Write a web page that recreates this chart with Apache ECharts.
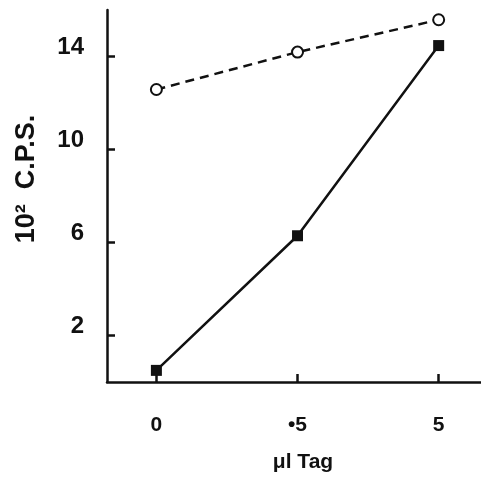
<!DOCTYPE html>
<html><head><meta charset="utf-8">
<script src="https://cdn.jsdelivr.net/npm/echarts@6/dist/echarts.min.js"></script>
<style>html,body{margin:0;padding:0;background:#fff}#c{width:481px;height:481px}</style>
</head><body><div id="c"></div>
<script>
const categories = ['0', '•5', '5'];
const xPositions = [0, 1, 2];
const openCircle = [12.58, 14.19, 15.58];
const filledSquare = [0.5, 6.29, 14.47];
const yTicks = [2, 6, 10, 14];

const chart = echarts.init(document.getElementById('c'));
const font = 'Liberation Sans, Arial, Helvetica, sans-serif';
chart.setOption({
  animation: false,
  backgroundColor: '#fff',
  grid: {left: 107, right: 0, top: 10, bottom: 99},
  xAxis: {
    type: 'value', min: -0.35, max: 2.3,
    name: 'μl Tag', nameLocation: 'middle', nameGap: 70,
    nameTextStyle: {fontFamily: font, fontWeight: 'bold', fontSize: 21, color: '#111', padding: [0,0,0,18]},
    axisLine: {show: true, lineStyle: {color: '#111', width: 2.5}},
    axisTick: {show: true, inside: true, length: 8, lineStyle: {color: '#111', width: 2.5}, customValues: xPositions},
    axisLabel: {fontFamily: font, fontWeight: 'bold', fontSize: 21, color: '#111', margin: 33,
      customValues: xPositions, formatter: v => categories[Math.round(v)]},
    splitLine: {show: false}
  },
  yAxis: {
    type: 'value', min: 0, max: 16,
    name: '10²  C.P.S.', nameLocation: 'middle', nameGap: 67, nameRotate: 90,
    nameTextStyle: {fontFamily: font, fontWeight: 'bold', fontSize: 27, color: '#111', padding: [0,0,0,34]},
    axisLine: {show: true, onZero: false, lineStyle: {color: '#111', width: 2.5}},
    axisTick: {show: true, inside: true, length: 8, lineStyle: {color: '#111', width: 2.5}, customValues: yTicks},
    axisLabel: {fontFamily: font, fontWeight: 'bold', fontSize: 24, color: '#111', margin: 23,
      verticalAlign: 'bottom', lineHeight: 18, customValues: yTicks},
    splitLine: {show: false}
  },
  series: [
    {type: 'line', data: xPositions.map((x, i) => [x, openCircle[i]]),
     symbol: 'circle', symbolSize: 11,
     lineStyle: {color: '#111', width: 2.5, type: [9, 6]},
     itemStyle: {color: '#fff', borderColor: '#111', borderWidth: 2}},
    {type: 'line', data: xPositions.map((x, i) => [x, filledSquare[i]]),
     symbol: 'rect', symbolSize: 11,
     lineStyle: {color: '#111', width: 2.5},
     itemStyle: {color: '#111', borderColor: '#111', borderWidth: 0}}
  ]
});
</script></body></html>
